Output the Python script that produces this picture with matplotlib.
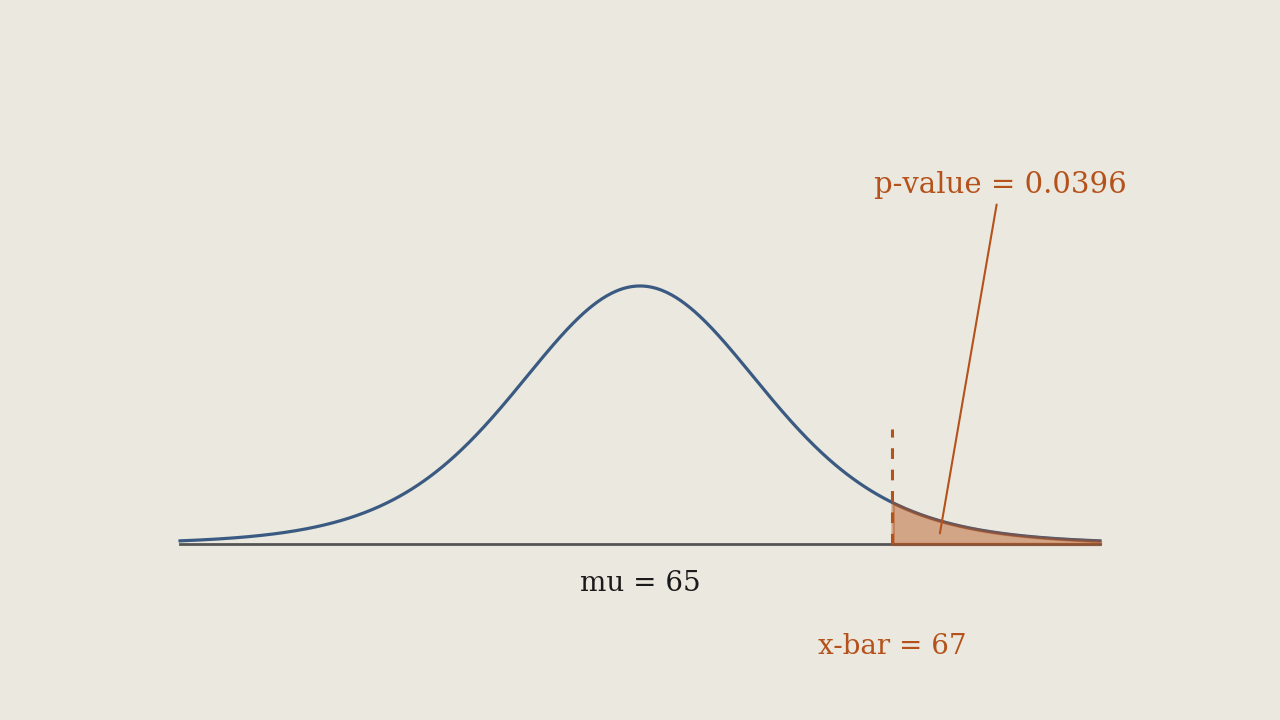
import numpy as np
import matplotlib
matplotlib.use("Agg")
import matplotlib.pyplot as plt
from math import gamma, sqrt, pi

# Test setup
mu = 65
xbar = 67
se = 1.0
df = 8
p_value = 0.0396
x_span = 3.65

# Colours
bg = '#ebe9df'
blue = '#3b5a82'
orange = '#b5521b'
grey = '#555555'


def t_pdf(t, nu):
    c = gamma((nu + 1) / 2) / (sqrt(nu * pi) * gamma(nu / 2))
    return c * (1 + t ** 2 / nu) ** (-(nu + 1) / 2)


x = np.linspace(mu - x_span * se, mu + x_span * se, 600)
y = t_pdf((x - mu) / se, df) / se

fig = plt.figure(figsize=(12.8, 7.2), dpi=100, facecolor=bg)
ax = fig.add_axes([0, 0, 1, 1])
ax.set_facecolor(bg)
ax.set_xlim(mu - 5.079 * se, mu + 5.079 * se)
ax.set_ylim(-0.2638, 0.8153)
ax.axis('off')

# Baseline and curve
ax.plot([x[0], x[-1]], [0, 0], color=grey, lw=2, zorder=1)
ax.plot(x, y, color=blue, lw=2.3, zorder=2)

# Shaded tail
tail = x >= xbar
ax.fill_between(x[tail], 0, y[tail], facecolor=orange, edgecolor=orange,
                alpha=0.45, lw=2.5, zorder=3)

# x-bar marker
ax.plot([xbar, xbar], [0, 0.173], color=orange, lw=2.2, ls=(0, (3.5, 3.5)), zorder=4)

# Labels
ax.text(mu, -0.059, 'mu = 65', ha='center', va='center', fontsize=20,
        family='DejaVu Serif', color='#1a1a1a')
ax.text(xbar, -0.154, 'x-bar = 67', ha='center', va='center', fontsize=20,
        family='DejaVu Serif', color=orange)

# p-value annotation
ax.annotate('p-value = %.4f' % p_value,
            xy=(mu + 2.38 * se, 0.016), xytext=(mu + 2.857 * se, 0.538),
            ha='center', va='center', fontsize=21, family='DejaVu Serif',
            color=orange,
            arrowprops=dict(arrowstyle='-', color=orange, lw=1.5,
                            shrinkA=2, shrinkB=0))

fig.savefig('out.png', dpi=100, facecolor=bg)
